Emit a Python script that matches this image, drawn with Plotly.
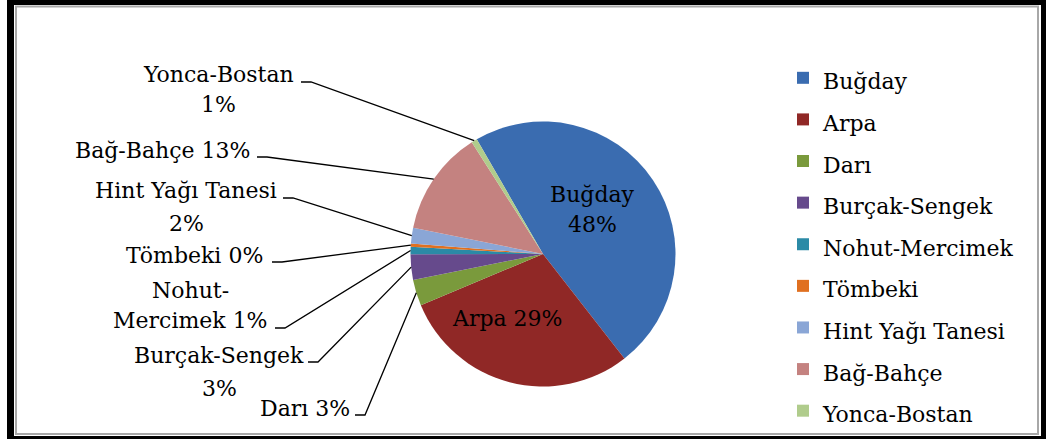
import math
import plotly.graph_objects as go

W, H = 1046, 439

# ---------------- data ----------------
labels = ["Buğday", "Arpa", "Darı", "Burçak-Sengek", "Nohut-Mercimek",
          "Tömbeki", "Hint Yağı Tanesi", "Bağ-Bahçe", "Yonca-Bostan"]
values = [47.8, 29.2, 3.2, 3.1, 0.9, 0.4, 1.9, 12.8, 0.7]
colors = ["#3A6CB0", "#902826", "#7A9A3C", "#664A8C", "#2B8AA6",
          "#E07020", "#8AA6D6", "#C48280", "#B0CC8C"]

FONT = "DejaVu Serif"
FS = 22

def px(x):
    return x / W

def py(y):
    return 1 - y / H

# pie geometry (pixels)
CX, CY, R = 543, 254, 132.5
ROT = -30  # first slice starts 30 deg before 12 o'clock

total = sum(values)
pcts = [round(v / total * 100) for v in values]

# slice mid angles (clockwise from 12 o'clock)
mids = []
acc = ROT
for v in values:
    span = v / total * 360
    mids.append(acc + span / 2)
    acc += span

def edge(i, f=1.0):
    a = math.radians(mids[i])
    return CX + R * f * math.sin(a), CY - R * f * math.cos(a)

legend_labels = [f"<span style='font-size:{FS}px'>{l}</span>" for l in labels]

fig = go.Figure(go.Pie(
    labels=legend_labels,
    values=values,
    sort=False,
    direction="clockwise",
    rotation=ROT,
    marker=dict(colors=colors, line=dict(width=0)),
    textinfo="none",
    hoverinfo="skip",
    domain=dict(x=[px(CX - R), px(CX + R)], y=[py(CY + R), py(CY - R)]),
))

shapes = [
    dict(type="rect", xref="paper", yref="paper", x0=px(7), x1=px(1046), y0=py(439), y1=py(0),
         fillcolor="black", line=dict(width=0), layer="below"),
    dict(type="rect", xref="paper", yref="paper", x0=px(14), x1=px(1041), y0=py(436), y1=py(5),
         fillcolor="white", line=dict(width=0), layer="below"),
    dict(type="rect", xref="paper", yref="paper", x0=px(16), x1=px(1038), y0=py(434), y1=py(6.5),
         fillcolor="white", line=dict(width=2, color="#A8A8A8"), layer="below"),
]

annotations = []

def add_text(txt, x, y):
    annotations.append(dict(text=txt, x=px(x), y=py(y), xref="paper", yref="paper",
                            xanchor="center", yanchor="middle", showarrow=False,
                            align="center",
                            font=dict(family=FONT, size=FS, color="black")))

# inside labels (layout positions)
add_text(labels[0], 592, 194)
add_text(f"{pcts[0]}%", 592, 224)
add_text(f"{labels[1]} {pcts[1]}%", 507, 318)

# outside labels: index -> (text lines, center x, line centers y, line start x, line y)
outside = {
    8: (["Yonca-Bostan", "{p}%"], 218, [74, 105], 301, 82),
    7: (["Bağ-Bahçe {p}%"], 162, [150], 257, 157),
    6: (["Hint Yağı Tanesi", "{p}%"], 186, [190, 223], 283, 198),
    5: (["Tömbeki {p}%"], 194, [255], 272, 262),
    4: (["Nohut-", "Mercimek {p}%"], 190, [290, 320], 275, 328),
    3: (["Burçak-Sengek", "{p}%"], 219, [355, 388], 308, 362),
    2: (["Darı {p}%"], 305, [408], 355, 415),
}
for i, (lines, tx, tys, lx, ly) in outside.items():
    for t, ty in zip(lines, tys):
        add_text(t.format(p=pcts[i]), tx, ty)
    ex, ey = edge(i)
    path = f"M{px(lx)},{py(ly)} L{px(lx + 10)},{py(ly)} L{px(ex)},{py(ey)}"
    shapes.append(dict(type="path", xref="paper", yref="paper", path=path,
                       line=dict(color="black", width=1.3), layer="above"))

fig.update_layout(
    width=W, height=H,
    margin=dict(l=0, r=0, t=0, b=0),
    paper_bgcolor="white",
    plot_bgcolor="white",
    showlegend=True,
    legend=dict(x=px(783), y=py(52), xanchor="left", yanchor="top",
                font=dict(family=FONT, size=29.7, color="black"),
                bgcolor="rgba(0,0,0,0)", itemclick=False, itemdoubleclick=False),
    shapes=shapes,
    annotations=annotations,
)

fig.write_html("out.html", config={"displayModeBar": False},
               post_script="document.body.style.margin='0';")
